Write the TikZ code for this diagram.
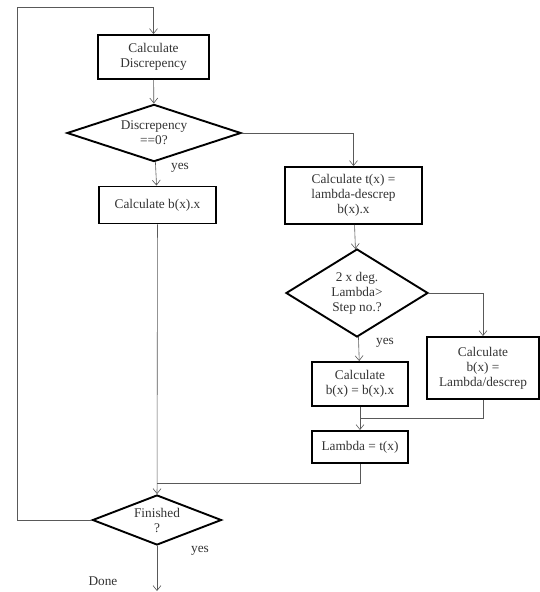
\documentclass[tikz,border=0pt]{standalone}
\usepackage{fontspec}
\setmainfont{Liberation Serif}
\usetikzlibrary{shapes.geometric,arrows.meta}

\begin{document}
\begin{tikzpicture}
  [x=1pt, y=-1pt,
  font=\fontsize{13.3}{15}\selectfont, text=black!80,
  stepbox/.style={draw, line width=1.9pt, align=center, inner sep=0pt},
  test/.style={diamond, draw, line width=1.9pt, align=center, inner sep=0pt, aspect=2},
  flow/.style={draw=black!65, line width=0.6pt, -{Straight Barb[length=5pt,width=8pt]}},
  line/.style={draw=black!65, line width=0.6pt}]
  \useasboundingbox (0,0) rectangle (540,592);
  % left column
  \node[stepbox, minimum width=111pt, minimum height=44pt] (disc) at (153.5,57) {Calculate\\Discrepency};
  \node[test, minimum width=174pt, minimum height=56pt] (zero) at (154,133) {Discrepency\\==0?};
  \node[stepbox, minimum width=117pt, minimum height=37pt] (bx) at (157.5,205) {Calculate b(x).x};
  \node[test, minimum width=129pt, minimum height=50pt] (fin) at (157,520) {Finished\\?};
  % right column
  \node[stepbox, minimum width=137pt, minimum height=57pt] (tx) at (353.5,195.5) {Calculate t(x) =\\lambda-descrep\\b(x).x};
  \node[test, minimum width=142pt, minimum height=88pt] (deg) at (357,293) {2 x deg.\\Lambda>\\Step no.?};
  \node[stepbox, minimum width=96pt, minimum height=44pt] (bxx) at (360,384) {Calculate\\b(x) = b(x).x};
  \node[stepbox, minimum width=112pt, minimum height=62pt] (bld) at (483,368) {Calculate\\b(x) =\\Lambda/descrep};
  \node[stepbox, minimum width=96pt, minimum height=32pt] (lam) at (360,447) {Lambda = t(x)};
  % labels
  \node (yes1) at (180,168) {yes};
  \node (yes2) at (385,343) {yes};
  \node (yes3) at (200,551) {yes};
  \node (done) at (103,581) {Done};
  % free ends
  \coordinate (loopbot) at (17,520);
  \coordinate (looptop) at (17,7);
  \coordinate (join) at (360,418);
  \coordinate (merge) at (157,483);
  \coordinate (exit) at (157,591);
  % connectors
  \draw[flow] (fin.west) -- (loopbot) -- (looptop) -| (disc.north);
  \draw[flow] (disc) -- (zero);
  \draw[flow] (zero.east) -| (tx.north);
  \draw[flow] (zero) -- (bx);
  \draw[flow] (bx) -- (fin);
  \draw[flow] (tx) -- (deg);
  \draw[flow] (deg.east) -| (bld.north);
  \draw[flow] (deg) -- (bxx);
  \draw[flow] (bxx) -- (lam);
  \draw[line] (bld.south) |- (join);
  \draw[line] (lam.south) |- (merge);
  \draw[flow] (fin.south) -- (exit);
\end{tikzpicture}
\end{document}
